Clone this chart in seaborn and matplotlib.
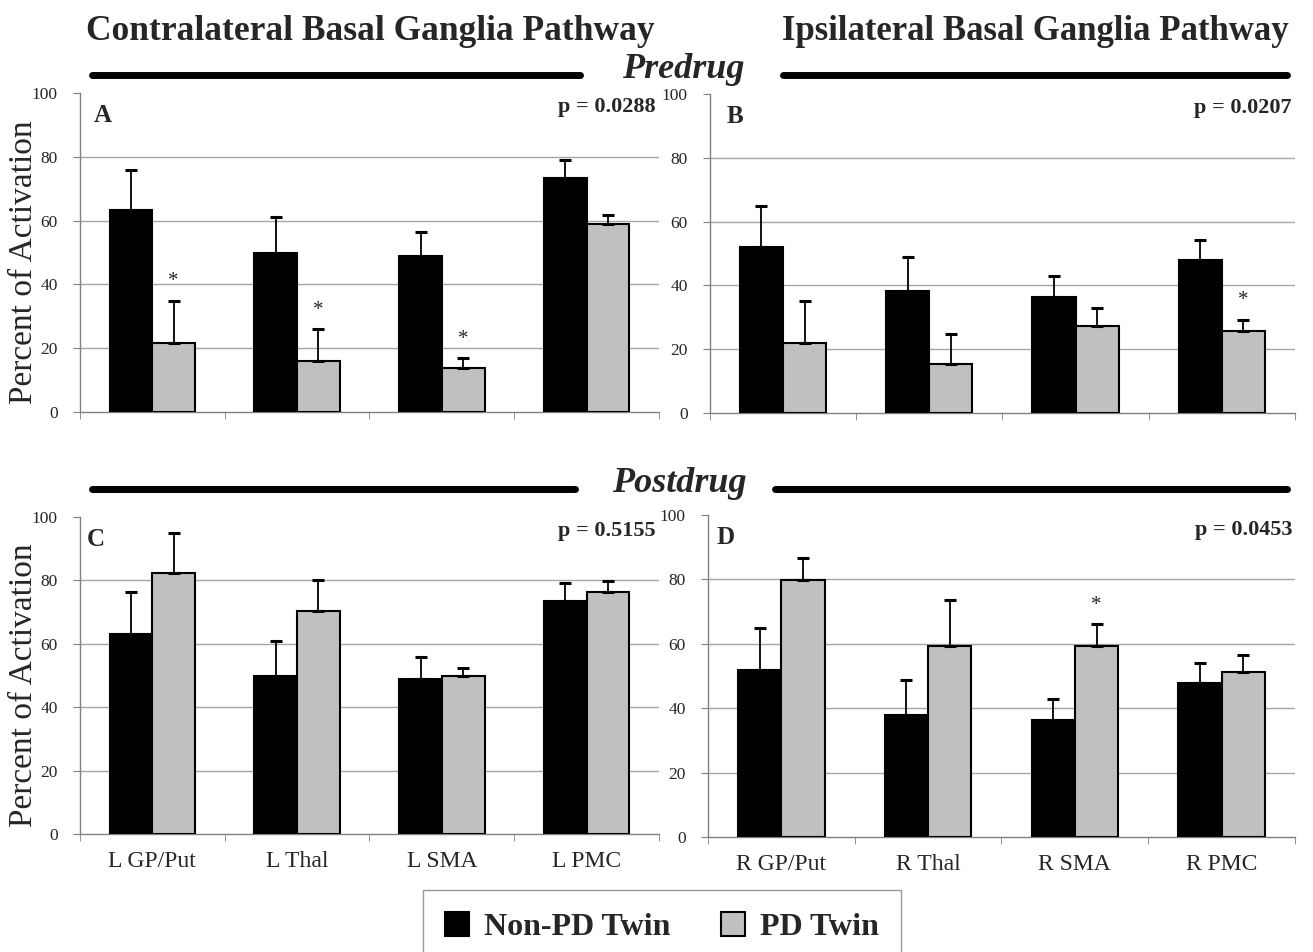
import matplotlib
matplotlib.use("Agg")
import matplotlib.pyplot as plt
from matplotlib.patches import Patch
import pandas as pd
import seaborn as sns

# data
left_regions = ["L GP/Put", "L Thal", "L SMA", "L PMC"]
right_regions = ["R GP/Put", "R Thal", "R SMA", "R PMC"]

a_nonpd = [63.2, 49.9, 48.8, 73.5]
a_nonpd_err = [12.8, 11.2, 7.5, 5.4]
a_pd = [21.6, 16.0, 13.9, 59.0]
a_pd_err = [13.2, 10.0, 3.0, 2.9]
a_star = [True, True, True, False]

b_nonpd = [52.1, 38.1, 36.5, 47.8]
b_nonpd_err = [12.8, 10.9, 6.3, 6.4]
b_pd = [21.9, 15.5, 27.3, 25.8]
b_pd_err = [13.1, 9.4, 5.7, 3.4]
b_star = [False, False, False, True]

c_nonpd = [63.0, 49.8, 48.9, 73.4]
c_nonpd_err = [13.2, 11.2, 7.1, 5.8]
c_pd = [82.2, 70.5, 49.7, 76.4]
c_pd_err = [12.7, 9.7, 2.6, 3.5]
c_star = [False, False, False, False]

d_nonpd = [51.9, 37.9, 36.3, 47.7]
d_nonpd_err = [13.1, 10.9, 6.5, 6.3]
d_pd = [79.8, 59.4, 59.4, 51.4]
d_pd_err = [7.0, 14.3, 6.7, 5.2]
d_star = [False, False, True, False]

p_values = ["p = 0.0288", "p = 0.0207", "p = 0.5155", "p = 0.0453"]
panel_letters = ["A", "B", "C", "D"]
groups = ["Non-PD Twin", "PD Twin"]

sns.set_style("white")
plt.rcParams["font.family"] = ["Liberation Serif", "DejaVu Serif"]

colors = {"Non-PD Twin": "#000000", "PD Twin": "#c0c0c0"}

fig = plt.figure(figsize=(13.13, 9.52), dpi=100)
boxes = [
    [0.0609, 0.5672, 0.4410, 0.3351],
    [0.5407, 0.5662, 0.4455, 0.3351],
    [0.0609, 0.1239, 0.4410, 0.3330],
    [0.5392, 0.1208, 0.4471, 0.3382],
]
letter_x = [0.024, 0.029, 0.012, 0.015]
panels = [
    (left_regions, a_nonpd, a_nonpd_err, a_pd, a_pd_err, a_star),
    (right_regions, b_nonpd, b_nonpd_err, b_pd, b_pd_err, b_star),
    (left_regions, c_nonpd, c_nonpd_err, c_pd, c_pd_err, c_star),
    (right_regions, d_nonpd, d_nonpd_err, d_pd, d_pd_err, d_star),
]

for i, (regions, nonpd, nonpd_err, pd_vals, pd_err, stars) in enumerate(panels):
    ax = fig.add_axes(boxes[i])
    df = pd.DataFrame({
        "region": regions * 2,
        "group": [groups[0]] * 4 + [groups[1]] * 4,
        "value": nonpd + pd_vals,
    })
    sns.barplot(data=df, x="region", y="value", hue="group", hue_order=groups,
                palette=colors, width=0.59, edgecolor="black", linewidth=1.5,
                errorbar=None, legend=False, ax=ax, zorder=3)

    # one-sided error bars on top of each bar
    for cont, errs in zip(ax.containers, [nonpd_err, pd_err]):
        for bar, e in zip(cont, errs):
            x = bar.get_x() + bar.get_width() / 2
            ax.errorbar(x, bar.get_height(), yerr=[[0], [e]], fmt="none",
                        ecolor="black", elinewidth=1.3, capsize=4, capthick=2.2,
                        zorder=4)
    for bar, e, s in zip(ax.containers[1], pd_err, stars):
        if s:
            x = bar.get_x() + bar.get_width() / 2
            ax.text(x, bar.get_height() + e + 3, "*", ha="center", va="bottom",
                    fontsize=15)

    ax.set_ylim(0, 100)
    ax.set_xlim(-0.5, 3.5)
    ax.set_yticks([0, 20, 40, 60, 80, 100])
    ax.grid(axis="y", color="#a6a6a6", linewidth=1, zorder=0)
    ax.get_ygridlines()[-1].set_visible(False)
    ax.get_ygridlines()[0].set_visible(False)
    sns.despine(ax=ax)
    for side in ["left", "bottom"]:
        ax.spines[side].set_color("#808080")
        ax.spines[side].set_linewidth(1)
    ax.set_xticks([-0.5, 0.5, 1.5, 2.5, 3.5], minor=True)
    ax.tick_params(axis="x", which="major", length=0, labelsize=17, pad=12)
    ax.tick_params(axis="x", which="minor", length=5, color="#808080",
                   direction="out", bottom=True)
    ax.tick_params(axis="y", length=5, color="#808080", direction="out",
                   left=True, labelsize=12.5, pad=11)
    ax.set_xlabel("")
    if i in (0, 2):
        ax.set_ylabel("Percent of Activation", fontsize=24)
        ax.yaxis.set_label_coords(-0.07, 0.47)
    else:
        ax.set_ylabel("")
    if i in (0, 1):
        ax.set_xticklabels([])

    ax.text(letter_x[i], 0.93, panel_letters[i], transform=ax.transAxes,
            fontsize=18, fontweight="bold", va="center", ha="left")
    ax.text(0.995, 0.955, p_values[i], transform=ax.transAxes,
            fontsize=16, fontweight="bold", va="center", ha="right")

# headers and section rules
fig.text(370 / 1313, 1 - 31 / 952, "Contralateral Basal Ganglia Pathway",
         fontsize=25.5, fontweight="bold", ha="center", va="center")
fig.text(1035 / 1313, 1 - 31 / 952, "Ipsilateral Basal Ganglia Pathway",
         fontsize=25, fontweight="bold", ha="center", va="center")
fig.text(683 / 1313, 1 - 70 / 952, "Predrug", fontsize=26, fontweight="bold",
         style="italic", ha="center", va="center")
fig.text(679 / 1313, 1 - 484 / 952, "Postdrug", fontsize=26, fontweight="bold",
         style="italic", ha="center", va="center")
for y, segs in [(75, [(92, 580), (783, 1287)]), (489, [(92, 575), (775, 1287)])]:
    for x0, x1 in segs:
        fig.add_artist(plt.Line2D([x0 / 1313, x1 / 1313], [1 - y / 952, 1 - y / 952],
                                  color="black", linewidth=5))

handles = [Patch(facecolor=colors[g], edgecolor="black", linewidth=1.5) for g in groups]
leg = fig.legend(handles, groups, loc="upper center",
                 bbox_to_anchor=(662 / 1313, 1 - 890 / 952), ncol=2,
                 prop={"size": 23, "weight": "bold"}, frameon=True,
                 fancybox=False, edgecolor="#808080", handlelength=0.75,
                 handleheight=0.75, columnspacing=1.6, borderpad=0.7,
                 borderaxespad=0, handletextpad=0.45)
leg.get_frame().set_linewidth(1)

fig.savefig("out.png", dpi=100)
